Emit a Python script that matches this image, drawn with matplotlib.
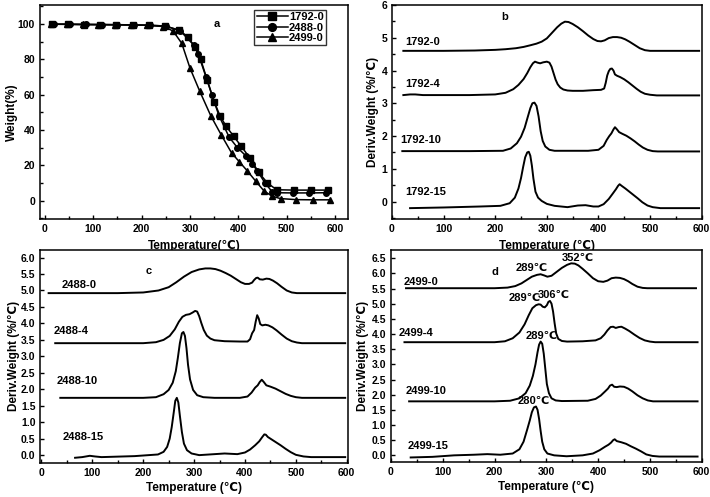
import matplotlib
matplotlib.use("Agg")
import matplotlib.pyplot as plt
from matplotlib.ticker import MultipleLocator

plt.rcParams['font.family'] = ['Liberation Sans', 'DejaVu Sans']
plt.rcParams['font.size'] = 7.5
plt.rcParams['font.weight'] = 'bold'
plt.rcParams['axes.labelweight'] = 'bold'

# ---------------- panel a : TGA ----------------
t_1792_0 = [15, 48, 82, 115, 148, 182, 215, 248, 278, 296, 310, 322, 336, 350, 362, 374,
            390, 406, 424, 442, 460, 479, 515, 550, 585]
w_1792_0 = [99.8, 99.8, 99.6, 99.6, 99.6, 99.4, 99.2, 98.8, 96.5, 92.5, 87, 80, 68, 56, 48, 42.4,
            36.5, 30.8, 24, 16, 10, 6.2, 6, 6, 6]
t_2488_0 = [20, 52, 85, 118, 150, 185, 218, 250, 280, 308, 317, 333, 345, 360, 381, 398,
            415, 428, 439, 455, 470, 480, 512, 546, 580]
w_2488_0 = [99.8, 99.7, 99.7, 99.6, 99.5, 99.4, 99.2, 98.8, 96, 88, 83, 70, 60, 48, 35.9, 30,
            25.5, 21, 17, 10, 5, 4.5, 4.4, 4.4, 4.5]
t_2499_0 = [12, 45, 78, 110, 145, 178, 212, 245, 265, 283, 300, 320, 343, 365, 386, 402,
            418, 436, 453, 470, 487, 520, 555, 590]
w_2499_0 = [99.8, 99.8, 99.7, 99.6, 99.5, 99.4, 99.2, 98.5, 96, 89, 75, 62, 48, 37, 27, 22,
            17, 11, 5.5, 2.5, 1.2, 0.6, 0.5, 0.5]

# ---------------- panel b : DTG 1792 ----------------
b0_t = [22, 100, 160, 200, 220, 240, 255, 268, 280, 290, 300, 310, 320, 328, 335, 342, 350,
        360, 370, 380, 390, 398, 405, 412, 420, 428, 436, 444, 452, 460, 470, 480, 490, 500,
        510, 595]
b0_y = [4.60, 4.60, 4.61, 4.63, 4.65, 4.68, 4.72, 4.77, 4.82, 4.88, 4.98, 5.15, 5.32, 5.43,
        5.49, 5.48, 5.42, 5.32, 5.20, 5.07, 4.96, 4.90, 4.89, 4.92, 4.99, 5.02, 5.02, 5.00,
        4.95, 4.88, 4.78, 4.68, 4.62, 4.60, 4.60, 4.60]
b4_t = [22, 35, 45, 60, 150, 200, 220, 235, 245, 255, 262, 268, 273, 277, 282, 287, 293, 300,
        305, 309, 313, 317, 321, 326, 332, 340, 350, 370, 390, 405, 411, 414, 417, 420, 423,
        426, 429, 432, 436, 442, 450, 458, 466, 474, 482, 490, 500, 513, 595]
b4_y = [3.25, 3.27, 3.27, 3.25, 3.25, 3.27, 3.32, 3.43, 3.56, 3.74, 3.92, 4.10, 4.22, 4.27,
        4.24, 4.22, 4.25, 4.27, 4.24, 4.12, 3.92, 3.72, 3.58, 3.48, 3.42, 3.39, 3.38, 3.38,
        3.40, 3.41, 3.45, 3.62, 3.85, 3.98, 4.05, 4.06, 4.00, 3.88, 3.84, 3.80, 3.73, 3.64,
        3.54, 3.44, 3.35, 3.29, 3.26, 3.24, 3.24]
b10_t = [20, 150, 215, 230, 242, 250, 257, 263, 268, 272, 276, 280, 284, 288, 292, 297, 305,
         315, 330, 380, 400, 410, 416, 421, 425, 429, 432, 436, 440, 446, 454, 462, 470, 478,
         486, 495, 505, 515, 595]
b10_y = [1.54, 1.54, 1.55, 1.62, 1.78, 1.98, 2.25, 2.58, 2.85, 3.00, 3.02, 2.92, 2.60, 2.15,
         1.85, 1.68, 1.58, 1.55, 1.55, 1.55, 1.58, 1.70, 1.88, 2.00, 2.08, 2.20, 2.27, 2.20,
         2.12, 2.07, 2.01, 1.93, 1.84, 1.74, 1.65, 1.58, 1.54, 1.53, 1.53]
b15_t = [35, 100, 171, 210, 228, 238, 245, 250, 254, 258, 262, 265, 268, 271, 274, 278, 283,
         290, 300, 315, 340, 360, 375, 390, 400, 410, 420, 428, 434, 438, 441, 445, 452, 460,
         468, 476, 485, 495, 505, 520, 595]
b15_y = [-0.20, -0.18, -0.15, -0.13, -0.05, 0.12, 0.40, 0.72, 1.05, 1.35, 1.50, 1.52, 1.40,
         1.10, 0.70, 0.30, 0.12, 0.02, -0.07, -0.13, -0.17, -0.12, -0.11, -0.15, -0.15, -0.08,
         0.08, 0.25, 0.38, 0.48, 0.53, 0.48, 0.40, 0.30, 0.20, 0.10, -0.02, -0.12, -0.17,
         -0.20, -0.20]

# ---------------- panel c : DTG 2488 ----------------
c0_t = [14, 150, 200, 230, 250, 265, 280, 295, 310, 322, 332, 342, 352, 362, 372, 382, 392,
        400, 408, 414, 418, 422, 425, 429, 435, 442, 448, 455, 463, 472, 482, 492, 502, 597]
c0_y = [4.92, 4.92, 4.94, 5.00, 5.10, 5.25, 5.42, 5.56, 5.64, 5.67, 5.67, 5.65, 5.60, 5.53,
        5.45, 5.35, 5.25, 5.20, 5.20, 5.24, 5.32, 5.38, 5.39, 5.34, 5.33, 5.36, 5.35, 5.30,
        5.22, 5.11, 5.00, 4.94, 4.92, 4.92]
c4_t = [27, 200, 225, 240, 252, 262, 270, 277, 284, 291, 297, 302, 306, 310, 314, 319, 325,
        332, 340, 360, 390, 405, 410, 414, 418, 421, 424, 427, 430, 434, 440, 446, 454, 462,
        472, 482, 492, 502, 512, 597]
c4_y = [3.40, 3.40, 3.43, 3.50, 3.62, 3.82, 4.05, 4.20, 4.26, 4.28, 4.33, 4.38, 4.36, 4.22,
        4.02, 3.80, 3.63, 3.54, 3.49, 3.46, 3.45, 3.45, 3.52, 3.70, 3.80, 4.05, 4.25, 4.15,
        3.98, 3.94, 3.96, 3.94, 3.88, 3.79, 3.66, 3.54, 3.46, 3.42, 3.40, 3.40]
c10_t = [37, 200, 225, 240, 250, 258, 264, 268, 272, 276, 279, 282, 285, 288, 292, 298, 306,
         318, 340, 390, 405, 413, 420, 425, 429, 433, 437, 442, 450, 460, 470, 480, 490, 500,
         512, 597]
c10_y = [1.74, 1.74, 1.76, 1.85, 1.98, 2.20, 2.55, 2.95, 3.40, 3.70, 3.74, 3.62, 3.25, 2.75,
         2.30, 1.98, 1.82, 1.76, 1.74, 1.74, 1.78, 1.90, 2.05, 2.12, 2.22, 2.29, 2.22, 2.12,
         2.08, 2.02, 1.94, 1.86, 1.80, 1.76, 1.74, 1.74]
c15_t = [66, 80, 95, 105, 118, 183, 229, 240, 247, 252, 256, 260, 263, 266, 269, 272, 276,
         280, 286, 295, 310, 340, 360, 385, 400, 410, 420, 428, 434, 438, 441, 445, 452, 460,
         470, 480, 490, 500, 515, 530, 597]
c15_y = [-0.08, -0.06, -0.02, -0.04, -0.06, -0.03, 0.02, 0.10, 0.25, 0.50, 0.85, 1.30, 1.65,
         1.74, 1.60, 1.20, 0.70, 0.35, 0.15, 0.05, 0.0, 0.03, 0.05, 0.03, 0.08, 0.17, 0.30,
         0.42, 0.55, 0.63, 0.62, 0.55, 0.48, 0.40, 0.30, 0.19, 0.09, 0.01, -0.04, -0.06, -0.06]

# ---------------- panel d : DTG 2499 ----------------
d0_t = [29, 200, 225, 240, 252, 262, 272, 282, 289, 296, 302, 310, 320, 330, 340, 348, 355,
        362, 370, 380, 390, 400, 410, 418, 426, 434, 442, 450, 458, 466, 476, 486, 495, 589]
d0_y = [5.51, 5.51, 5.53, 5.58, 5.67, 5.78, 5.89, 5.95, 5.97, 5.93, 5.89, 5.92, 6.05, 6.18,
        6.28, 6.33, 6.32, 6.26, 6.15, 6.00, 5.84, 5.74, 5.72, 5.76, 5.84, 5.86, 5.85, 5.81,
        5.74, 5.65, 5.56, 5.52, 5.51, 5.51]
d4_t = [26, 200, 220, 235, 248, 258, 266, 273, 280, 285, 289, 293, 297, 301, 304, 307, 310,
        313, 316, 319, 323, 330, 340, 370, 395, 405, 412, 418, 424, 429, 434, 440, 445, 452,
        460, 470, 480, 490, 500, 510, 592]
d4_y = [3.73, 3.73, 3.76, 3.86, 4.05, 4.32, 4.62, 4.85, 4.95, 4.98, 4.97, 4.90, 4.88, 4.95,
        5.06, 5.09, 5.00, 4.74, 4.35, 4.02, 3.84, 3.77, 3.75, 3.76, 3.79, 3.86, 3.98, 4.12,
        4.23, 4.24, 4.20, 4.23, 4.24, 4.18, 4.10, 3.98, 3.87, 3.79, 3.75, 3.73, 3.73]
d10_t = [35, 200, 230, 248, 260, 268, 274, 279, 283, 286, 289, 292, 295, 298, 301, 305, 310,
         318, 330, 380, 395, 405, 413, 419, 423, 427, 431, 436, 442, 450, 458, 466, 476, 486,
         496, 506, 592]
d10_y = [1.78, 1.78, 1.80, 1.88, 2.05, 2.30, 2.62, 3.00, 3.40, 3.65, 3.75, 3.68, 3.35, 2.85,
         2.35, 2.05, 1.88, 1.81, 1.79, 1.80, 1.86, 1.97, 2.10, 2.20, 2.30, 2.33, 2.26, 2.25,
         2.27, 2.26, 2.20, 2.11, 1.98, 1.88, 1.81, 1.78, 1.78]
d15_t = [38, 80, 122, 160, 186, 211, 235, 248, 256, 263, 268, 272, 276, 280, 283, 286, 289,
         292, 296, 302, 315, 339, 370, 390, 403, 413, 420, 425, 429, 432, 436, 445, 454, 463,
         473, 483, 493, 505, 518, 592]
d15_y = [-0.07, -0.05, 0.0, 0.02, 0.04, 0.02, 0.06, 0.20, 0.45, 0.85, 1.15, 1.42, 1.58, 1.61,
         1.50, 1.20, 0.80, 0.45, 0.20, 0.06, 0.0, -0.03, 0.0, 0.06, 0.17, 0.28, 0.35, 0.42,
         0.50, 0.53, 0.47, 0.43, 0.38, 0.30, 0.22, 0.13, 0.03, -0.02, -0.04, -0.04]

tga_names = ['1792-0', '2488-0', '2499-0']
b_names = ['1792-0', '1792-4', '1792-10', '1792-15']
c_names = ['2488-0', '2488-4', '2488-10', '2488-15']
d_names = ['2499-0', '2499-4', '2499-10', '2499-15']


def style_axes(ax):
    for sp in ax.spines.values():
        sp.set_linewidth(1.1)
    ax.tick_params(which='both', direction='in', width=1.0, top=False, right=False)
    ax.tick_params(which='major', length=3)
    ax.tick_params(which='minor', length=2)
    ax.xaxis.set_major_locator(MultipleLocator(100))
    ax.xaxis.set_minor_locator(MultipleLocator(50))


fig = plt.figure(figsize=(7.1, 4.97), dpi=100)

# panel a
ax = fig.add_axes([0.0563, 0.5588, 0.4342, 0.4312])
ax.plot(t_1792_0, w_1792_0, '-s', color='black', lw=1.1, ms=4, label=tga_names[0])
ax.plot(t_2488_0, w_2488_0, '-o', color='black', lw=1.1, ms=4, label=tga_names[1])
ax.plot(t_2499_0, w_2499_0, '-^', color='black', lw=1.1, ms=4, label=tga_names[2])
ax.set_xlim(-10, 627)
ax.set_ylim(-10.5, 110.7)
style_axes(ax)
ax.yaxis.set_major_locator(MultipleLocator(20))
ax.yaxis.set_minor_locator(MultipleLocator(10))
leg = ax.legend(loc='upper right', bbox_to_anchor=(0.928, 0.977), fontsize=8,
                frameon=True, fancybox=False, handlelength=2.8, borderpad=0.2,
                labelspacing=0.05, handletextpad=0.1, borderaxespad=0.0, markerscale=1.4)
leg.get_frame().set_edgecolor('black')
leg.get_frame().set_linewidth(1.0)
ax.text(355, 100, 'a', fontsize=8, ha='center', va='center')
ax.set_xlabel('Temperature(\u2103)', fontsize=8.5, labelpad=4)
ax.set_ylabel('Weight(%)', fontsize=8.5, labelpad=0)

# panel b
ax = fig.add_axes([0.5521, 0.5588, 0.4362, 0.4312])
for tt, yy in [(b0_t, b0_y), (b4_t, b4_y), (b10_t, b10_y), (b15_t, b15_y)]:
    ax.plot(tt, yy, color='black', lw=1.4)
ax.set_xlim(0, 600)
ax.set_ylim(-0.54, 6)
style_axes(ax)
ax.yaxis.set_major_locator(MultipleLocator(1))
ax.yaxis.set_minor_locator(MultipleLocator(0.5))
for name, (x, y) in zip(b_names, [(25, 4.88), (25, 3.58), (16, 1.89), (25, 0.28)]):
    ax.text(x, y, name, fontsize=8, ha='left', va='center')
ax.text(218, 5.63, 'b', fontsize=8, ha='center', va='center')
ax.set_xlabel('Temperature (\u2103)', fontsize=8.5, labelpad=4)
ax.set_ylabel('Deriv.Weight (%/\u2103)', fontsize=8.5, labelpad=2)

# panel c
ax = fig.add_axes([0.0570, 0.0690, 0.4335, 0.4280])
for tt, yy in [(c0_t, c0_y), (c4_t, c4_y), (c10_t, c10_y), (c15_t, c15_y)]:
    ax.plot(tt, yy, color='black', lw=1.4)
ax.set_xlim(-2, 603)
ax.set_ylim(-0.23, 6.23)
style_axes(ax)
ax.yaxis.set_major_locator(MultipleLocator(0.5))
for name, (x, y) in zip(c_names, [(39, 5.17), (24, 3.78), (29, 2.24), (42, 0.55)]):
    ax.text(x, y, name, fontsize=8, ha='left', va='center')
ax.text(211, 5.6, 'c', fontsize=8, ha='center', va='center')
ax.set_xlabel('Temperature (\u2103)', fontsize=8.5, labelpad=3)
ax.set_ylabel('Deriv.Weight (%/\u2103)', fontsize=8.5, labelpad=1)

# panel d
ax = fig.add_axes([0.5507, 0.0704, 0.4376, 0.4266])
for tt, yy in [(d0_t, d0_y), (d4_t, d4_y), (d10_t, d10_y), (d15_t, d15_y)]:
    ax.plot(tt, yy, color='black', lw=1.4)
ax.set_xlim(0, 600)
ax.set_ylim(-0.22, 6.77)
style_axes(ax)
ax.yaxis.set_major_locator(MultipleLocator(0.5))
for name, (x, y) in zip(d_names, [(24, 5.71), (15, 4.03), (28, 2.11), (32, 0.30)]):
    ax.text(x, y, name, fontsize=8, ha='left', va='center')
ax.text(201, 6.06, 'd', fontsize=8, ha='center', va='center')
peak_labels = ['289\u2103', '352\u2103', '289\u2103', '306\u2103', '289\u2103', '280\u2103']
peak_pos = [(272, 6.17), (360, 6.52), (259, 5.18), (314, 5.29), (291, 3.92), (275, 1.78)]
for lab, (x, y) in zip(peak_labels, peak_pos):
    ax.text(x, y, lab, fontsize=8, ha='center', va='center')
ax.set_xlabel('Temperature (\u2103)', fontsize=8.5, labelpad=3)
ax.set_ylabel('Deriv.Weight (%/\u2103)', fontsize=8.5, labelpad=2)

fig.savefig('out.png', dpi=100)
